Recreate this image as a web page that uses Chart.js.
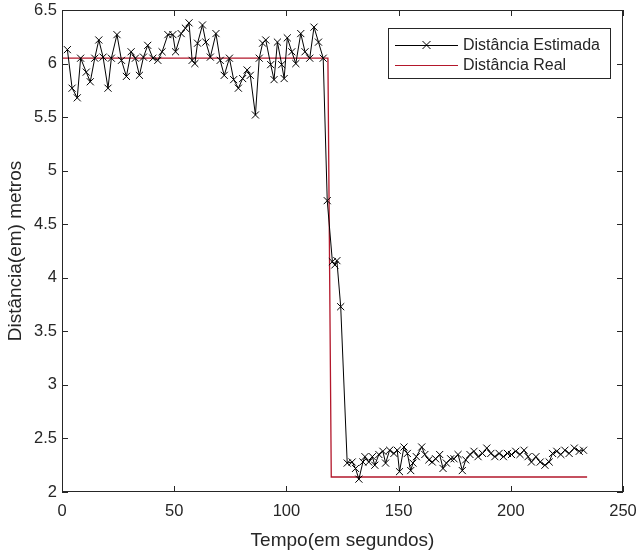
<!DOCTYPE html>
<html>
<head>
<meta charset="utf-8">
<script src="https://cdn.jsdelivr.net/npm/chart.js@4"></script>
<style>
  html, body { margin: 0; padding: 0; background: #fff; }
  #wrap { width: 636px; height: 556px; }
</style>
</head>
<body>
<div id="wrap"><canvas id="chart" width="636" height="556"></canvas></div>
<script>
// tempos (s) e distâncias
const tempoEst = [
  2.4, 4.5, 6.8, 8.3, 10.8, 12.6, 14.6, 16.4, 18.3, 20.5, 22, 24.5, 26.5, 28.7,
  30.8, 32.7, 34.5, 36.3, 38.2, 40.5, 42.7, 44.6, 47.2, 49.4, 50.6, 53.1, 55, 56.6, 58, 59.2,
  60.4, 62.6, 64.1, 66.1, 68.6, 70.5, 72.3, 74.6, 76.5, 78.6, 80.5, 82.5, 83.9, 86.2, 87.9, 89.4,
  90.8, 93, 94.5, 96, 97.9, 99, 100.4, 102.4, 104.2, 106.4, 108.3, 110.4, 112.3, 114.3, 116.4,
  118.2, 120.5, 121.6, 122.5, 124.2,
  127.1, 129.3, 130.8, 132.3, 134.1, 135, 136.7, 138.3, 139.4, 141.2, 143, 144.2, 146, 147.9, 149.4,
  150.4, 152.4, 153.9, 155.4, 156.4, 157.9, 160.3, 161.7, 163.5, 165, 166.5, 168.3, 169.8, 171.3, 173.2,
  174.7, 176.5, 178.4, 179.9, 181.8, 183.6, 185.4, 187.4, 189.3, 191.1, 192.9, 194.8, 196.7, 198.5,
  200.3, 202.2, 204.1, 205.9, 207.7, 209.2, 211.2, 213.1, 215.2, 217.1, 218.6, 220.5, 222.3, 224.1,
  226, 228.3, 230.5, 232.4
];
const distEst = [
  6.13, 5.77, 5.68, 6.05, 5.92, 5.83, 6.05, 6.22, 6.06, 5.77, 6.05, 6.27, 6.03, 5.88,
  6.11, 6.05, 5.89, 6.06, 6.17, 6.05, 6.03, 6.11, 6.27, 6.27, 6.11, 6.28, 6.33, 6.38, 6.03, 6.0,
  6.19, 6.36, 6.20, 6.06, 6.28, 6.03, 5.89, 6.05, 5.85, 5.77, 5.86, 5.94, 5.89, 5.52, 6.05, 6.19,
  6.22, 5.99, 5.85, 6.20, 5.99, 5.86, 6.24, 6.11, 6.0, 6.28, 6.11, 6.05, 6.34, 6.20, 6.05,
  4.72, 4.15, 4.12, 4.16, 3.73,
  2.27, 2.28, 2.22, 2.12, 2.28, 2.33, 2.28, 2.33, 2.25, 2.35, 2.38, 2.27, 2.39, 2.36, 2.39,
  2.19, 2.42, 2.36, 2.20, 2.27, 2.33, 2.42, 2.35, 2.30, 2.28, 2.31, 2.35, 2.22, 2.27, 2.31,
  2.31, 2.35, 2.20, 2.30, 2.35, 2.38, 2.33, 2.36, 2.41, 2.36, 2.33, 2.36, 2.33, 2.36,
  2.35, 2.38, 2.35, 2.39, 2.33, 2.28, 2.33, 2.28, 2.25, 2.28, 2.36, 2.38, 2.35, 2.39,
  2.36, 2.41, 2.38, 2.39
];
const tempoReal = [0, 118.5, 120, 234];
const distReal = [6.05, 6.05, 2.14, 2.14];

const xTicks = [0, 50, 100, 150, 200, 250];
const yTicks = [2, 2.5, 3, 3.5, 4, 4.5, 5, 5.5, 6, 6.5];
const legendLabels = ['Distância Estimada', 'Distância Real'];

const AXIS = '#262626';
const RED = '#b3172b';
const FONT = '"Liberation Sans", Arial, sans-serif';

// moldura com ticks para dentro e legenda, estilo MATLAB
const frame = {
  id: 'frame',
  afterDraw(chart) {
    const { ctx, chartArea: a, scales } = chart;
    ctx.save();
    ctx.strokeStyle = AXIS;
    ctx.lineWidth = 1;
    ctx.strokeRect(a.left + 0.5, a.top + 0.5, a.right - a.left - 1, a.bottom - a.top - 1);
    ctx.beginPath();
    xTicks.forEach(v => {
      const x = Math.round(scales.x.getPixelForValue(v)) + 0.5;
      ctx.moveTo(x, a.bottom); ctx.lineTo(x, a.bottom - 6);
      ctx.moveTo(x, a.top); ctx.lineTo(x, a.top + 6);
    });
    yTicks.forEach(v => {
      const y = Math.round(scales.y.getPixelForValue(v)) + 0.5;
      ctx.moveTo(a.left, y); ctx.lineTo(a.left + 6, y);
      ctx.moveTo(a.right, y); ctx.lineTo(a.right - 6, y);
    });
    ctx.stroke();

    // legenda
    const lx = 388, ly = 28, lw = 222, lh = 50;
    ctx.fillStyle = '#fff';
    ctx.fillRect(lx, ly, lw, lh);
    ctx.strokeRect(lx + 0.5, ly + 0.5, lw, lh);
    ctx.font = '16px ' + FONT;
    ctx.textBaseline = 'middle';
    chart.data.datasets.forEach((ds, i) => {
      const y = ly + 17 + i * 20;
      ctx.strokeStyle = ds.borderColor;
      ctx.beginPath();
      ctx.moveTo(lx + 7, y + 0.5); ctx.lineTo(lx + 70, y + 0.5);
      ctx.stroke();
      if (ds.pointRadius > 0) {
        const cx = lx + 38.5, r = 4;
        ctx.beginPath();
        ctx.moveTo(cx - r, y - r); ctx.lineTo(cx + r, y + r);
        ctx.moveTo(cx - r, y + r); ctx.lineTo(cx + r, y - r);
        ctx.stroke();
      }
      ctx.fillStyle = AXIS;
      ctx.fillText(legendLabels[i], lx + 75, y + 1);
    });
    ctx.restore();
  }
};

new Chart(document.getElementById('chart'), {
  type: 'scatter',
  data: {
    datasets: [
      {
        label: legendLabels[0],
        data: tempoEst.map((t, i) => ({ x: t, y: distEst[i] })),
        showLine: true,
        borderColor: '#000',
        borderWidth: 1,
        pointStyle: 'crossRot',
        pointRadius: 5,
        pointBorderWidth: 1,
        pointBorderColor: '#000',
        tension: 0
      },
      {
        label: legendLabels[1],
        data: tempoReal.map((t, i) => ({ x: t, y: distReal[i] })),
        showLine: true,
        borderColor: RED,
        borderWidth: 1.3,
        pointRadius: 0,
        tension: 0
      }
    ]
  },
  options: {
    responsive: false,
    animation: false,
    layout: { padding: { top: 10, right: 13, left: 0, bottom: 0 } },
    plugins: { legend: { display: false }, tooltip: { enabled: false } },
    scales: {
      x: {
        type: 'linear', min: 0, max: 250,
        afterBuildTicks: s => { s.ticks = xTicks.map(v => ({ value: v })); },
        afterFit: s => { s.height = 64; s.paddingLeft = 0; s.paddingRight = 0; },
        grid: { display: false, drawTicks: false },
        border: { display: false },
        ticks: { color: AXIS, font: { family: FONT, size: 16.5 }, padding: 10, maxRotation: 0, callback: v => String(v) },
        title: { display: true, text: 'Tempo(em segundos)', color: AXIS, font: { family: FONT, size: 19 }, padding: { top: 4 } }
      },
      y: {
        type: 'linear', min: 2, max: 6.5,
        afterBuildTicks: s => { s.ticks = yTicks.map(v => ({ value: v })); },
        afterFit: s => { s.width = 62; s.paddingTop = 0; s.paddingBottom = 0; },
        grid: { display: false, drawTicks: false },
        border: { display: false },
        ticks: { color: AXIS, font: { family: FONT, size: 16.5 }, padding: 5, callback: v => String(v) },
        title: { display: true, text: 'Distância(em) metros', color: AXIS, font: { family: FONT, size: 19 }, padding: { bottom: 2 } }
      }
    }
  },
  plugins: [frame]
});
</script>
</body>
</html>
